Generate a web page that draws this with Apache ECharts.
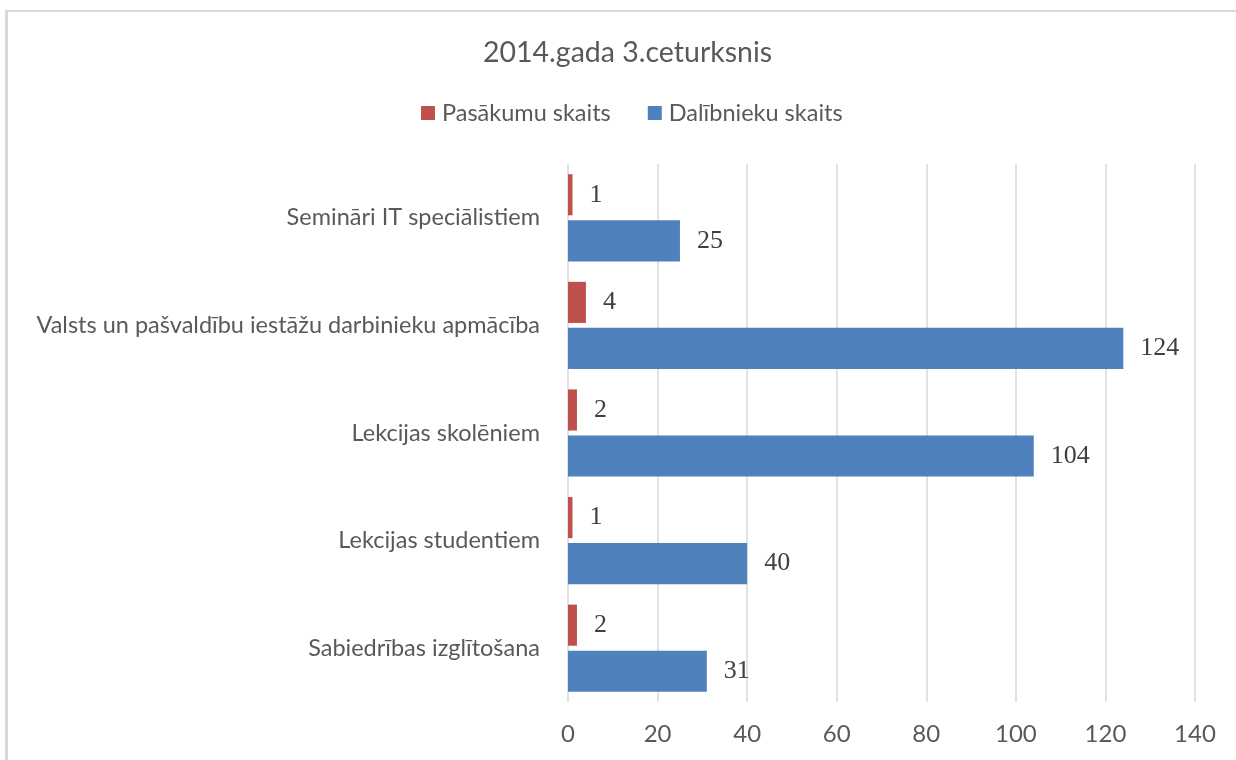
<!DOCTYPE html>
<html>
<head>
<meta charset="utf-8">
<script src="https://cdn.jsdelivr.net/npm/echarts@6/dist/echarts.min.js"></script>
<style>
  html, body { margin: 0; padding: 0; background: #fff; }
  #frame {
    position: absolute; left: 5px; top: 10px; width: 1400px; height: 900px;
    border-left: 3px solid #D9D9D9; border-top: 2px solid #D9D9D9;
    box-sizing: border-box;
  }
  #chart { position: absolute; left: 0; top: 0; width: 1236px; height: 760px; }
</style>
</head>
<body>
<div id="frame"></div>
<div id="chart"></div>
<script>
// Categories, listed top to bottom
const categories = [
  'Semināri IT speciālistiem',
  'Valsts un pašvaldību iestāžu darbinieku apmācība',
  'Lekcijas skolēniem',
  'Lekcijas studentiem',
  'Sabiedrības izglītošana'
];
const seriesNames = ['Pasākumu skaits', 'Dalībnieku skaits'];
const eventCounts = [1, 4, 2, 1, 2];
const participantCounts = [25, 124, 104, 40, 31];
const xTicks = { min: 0, max: 140, interval: 20 };

const chart = echarts.init(document.getElementById('chart'), null, { renderer: 'canvas' });

const labelStyle = {
  show: true,
  position: 'right',
  distance: 17,
  color: '#404040',
  fontFamily: 'Liberation Serif',
  fontSize: 26
};

chart.setOption({
  backgroundColor: 'transparent',
  animation: false,
  title: {
    text: '2014.gada 3.ceturksnis',
    left: 478,
    top: 33,
    textStyle: { color: '#595959', fontFamily: 'Lato', fontSize: 28.5, fontWeight: 'normal' }
  },
  legend: {
    top: 96,
    left: 416,
    itemWidth: 14,
    itemHeight: 14,
    itemGap: 37,
    icon: 'rect',
    textStyle: { color: '#595959', fontFamily: 'Lato', fontSize: 23.5, padding: [0, 0, 0, 2] },
    data: seriesNames
  },
  grid: { left: 568, right: 41, top: 164, bottom: 58, containLabel: false },
  xAxis: {
    type: 'value',
    min: xTicks.min,
    max: xTicks.max,
    interval: xTicks.interval,
    axisLine: { show: false },
    axisTick: { show: false },
    splitLine: { show: true, lineStyle: { color: '#D9D9D9', width: 1.5 } },
    axisLabel: { color: '#595959', fontFamily: 'Lato', fontSize: 24, margin: 20 }
  },
  yAxis: {
    type: 'category',
    inverse: true,
    data: categories,
    axisLine: { show: false },
    axisTick: { show: false },
    axisLabel: { color: '#595959', fontFamily: 'Lato', fontSize: 23.5, margin: 28 }
  },
  series: [
    {
      name: seriesNames[0],
      type: 'bar',
      data: eventCounts,
      itemStyle: { color: '#C0504D' },
      barGap: '12%',
      barCategoryGap: '19%',
      label: labelStyle
    },
    {
      name: seriesNames[1],
      type: 'bar',
      data: participantCounts,
      itemStyle: { color: '#4F81BD' },
      barGap: '12%',
      barCategoryGap: '19%',
      label: labelStyle
    }
  ]
});
</script>
</body>
</html>
